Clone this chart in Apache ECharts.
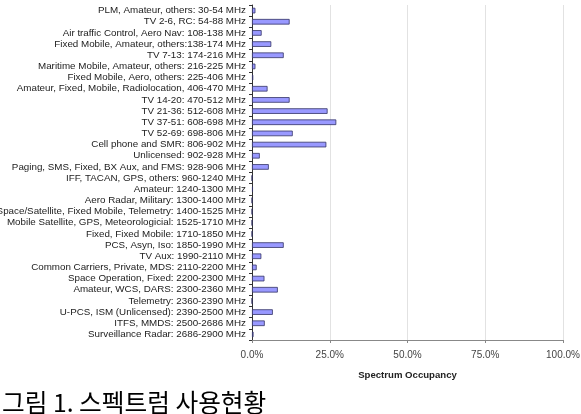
<!DOCTYPE html>
<html><head><meta charset="utf-8">
<script src="https://cdn.jsdelivr.net/npm/echarts@6/dist/echarts.min.js"></script>
<style>html,body{margin:0;padding:0;background:#fff}#c{width:581px;height:414px}</style>
</head><body><div id="c"></div>
<script>
const categories = [
 "PLM, Amateur, others: 30-54 MHz",
 "TV 2-6, RC: 54-88 MHz",
 "Air traffic Control, Aero Nav: 108-138 MHz",
 "Fixed Mobile, Amateur, others:138-174 MHz",
 "TV 7-13: 174-216 MHz",
 "Maritime Mobile, Amateur, others: 216-225 MHz",
 "Fixed Mobile, Aero, others: 225-406 MHz",
 "Amateur, Fixed, Mobile, Radiolocation, 406-470 MHz",
 "TV 14-20: 470-512 MHz",
 "TV 21-36: 512-608 MHz",
 "TV 37-51: 608-698 MHz",
 "TV 52-69: 698-806 MHz",
 "Cell phone and SMR: 806-902 MHz",
 "Unlicensed: 902-928 MHz",
 "Paging, SMS, Fixed, BX Aux, and FMS: 928-906 MHz",
 "IFF, TACAN, GPS, others: 960-1240 MHz",
 "Amateur: 1240-1300 MHz",
 "Aero Radar, Military: 1300-1400 MHz",
 "Space/Satellite, Fixed Mobile, Telemetry: 1400-1525 MHz",
 "Mobile Satellite, GPS, Meteorologicial: 1525-1710 MHz",
 "Fixed, Fixed Mobile: 1710-1850 MHz",
 "PCS, Asyn, Iso: 1850-1990 MHz",
 "TV Aux: 1990-2110 MHz",
 "Common Carriers, Private, MDS: 2110-2200 MHz",
 "Space Operation, Fixed: 2200-2300 MHz",
 "Amateur, WCS, DARS: 2300-2360 MHz",
 "Telemetry: 2360-2390 MHz",
 "U-PCS, ISM (Unlicensed): 2390-2500 MHz",
 "ITFS, MMDS: 2500-2686 MHz",
 "Surveillance Radar: 2686-2900 MHz"
];
const occupancy = [1.1, 12.1, 3.1, 6.2, 10.2, 1.1, 0.4, 5.0, 12.1, 24.3, 27.1, 13.1, 23.9, 2.5, 5.4,
 0, 0.3, 0, 0, 0, 0, 10.2, 3.0, 1.5, 4.0, 8.3, 0, 6.7, 4.1, 0.5];
const xTicks = [0, 25, 50, 75, 100];
const xName = "Spectrum Occupancy";
const title = "그림 1. 스펙트럼 사용현황";

const chart = echarts.init(document.getElementById('c'), null, {renderer:'canvas'});
chart.setOption({
  animation:false,
  title:{text:title,left:-3,top:385,textStyle:{fontFamily:'Noto Sans CJK KR',fontSize:24.7,fontWeight:'normal',color:'#000'}},
  grid:{left:252,right:18,top:5,bottom:74,containLabel:false,outerBoundsMode:'none'},
  xAxis:{type:'value',min:xTicks[0],max:xTicks[xTicks.length-1],interval:25,
    name:xName,nameLocation:'middle',nameGap:30,
    nameTextStyle:{fontFamily:'Liberation Sans',fontSize:9.6,fontWeight:'bold',color:'#222'},
    axisLine:{show:true,lineStyle:{color:'#888',width:1}},
    axisTick:{show:true,length:3,lineStyle:{color:'#888'}},
    axisLabel:{fontFamily:'Liberation Sans',fontSize:10,color:'#444',margin:10,formatter:v=>v.toFixed(1)+'%'},
    splitLine:{show:true,lineStyle:{color:'#e2e2e2',width:1}}},
  yAxis:{type:'category',data:categories,inverse:true,
    axisLine:{show:true,lineStyle:{color:'#333',width:1}},
    axisTick:{show:true,length:3,lineStyle:{color:'#333'}},
    axisLabel:{fontFamily:'Liberation Sans',fontSize:9.8,color:'#222',margin:6,interval:0}},
  series:[{type:'bar',data:occupancy,barWidth:'50%',
    itemStyle:{color:'#9999ff',borderColor:'#333366',borderWidth:0.8}}]
});
</script></body></html>
